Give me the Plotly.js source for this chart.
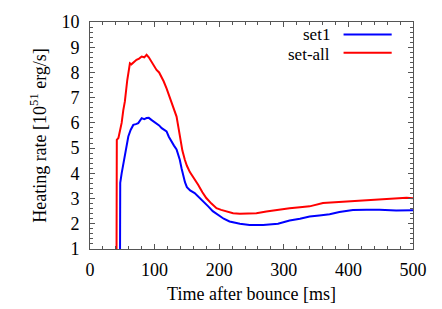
<!DOCTYPE html>
<html>
<head>
<meta charset="utf-8">
<script src="https://cdn.plot.ly/plotly-3.0.1.min.js"></script>
<style>
html,body{margin:0;padding:0;background:#fff}
#chart{width:442px;height:309px}
</style>
</head>
<body>
<div id="chart"></div>
<script>
// Time after bounce [ms] and heating rate [10^51 erg/s]
var set1T = [46.4, 46.8, 49, 51.5, 55.6, 59.3, 62.9, 67, 71, 74.7, 80, 84, 87.6, 91, 95, 99, 103, 107, 111, 115, 118.5, 122, 126, 130, 134, 137, 139, 141.7, 144, 147, 150, 155, 162, 167, 175, 183, 190, 198, 207, 216, 232, 247, 268, 291, 309, 325, 340, 355, 371, 386, 407, 428, 448, 474, 500];
var set1V = [0, 3.62, 4.0, 4.34, 4.93, 5.46, 5.72, 5.92, 5.95, 5.99, 6.19, 6.15, 6.19, 6.2, 6.12, 6.05, 5.99, 5.9, 5.79, 5.72, 5.66, 5.45, 5.26, 5.1, 4.95, 4.75, 4.54, 4.2, 3.95, 3.65, 3.45, 3.32, 3.22, 3.1, 2.9, 2.69, 2.5, 2.36, 2.2, 2.09, 2.0, 1.95, 1.95, 2.0, 2.13, 2.2, 2.29, 2.33, 2.38, 2.47, 2.55, 2.56, 2.56, 2.53, 2.54];
var setAllT = [41, 41.5, 44, 49, 51.5, 54, 57.7, 61.8, 64, 67, 72, 76, 80, 84, 87.6, 91, 95, 99, 103, 107, 110.8, 114, 118.5, 122, 126, 130, 134, 137, 139, 143, 146.8, 150, 154.6, 160, 167.4, 174, 180, 188, 195.8, 203, 211, 221.5, 232, 242, 257.6, 273, 291, 309, 325, 340, 360.6, 380, 402, 427.7, 450, 474, 490, 500];
var setAllV = [0, 5.33, 5.4, 6.0, 6.5, 6.85, 7.7, 8.36, 8.32, 8.39, 8.5, 8.55, 8.63, 8.6, 8.7, 8.6, 8.43, 8.3, 8.1, 8.0, 7.83, 7.65, 7.37, 7.1, 6.84, 6.55, 6.25, 5.8, 5.46, 4.9, 4.54, 4.3, 4.05, 3.85, 3.55, 3.25, 3.02, 2.8, 2.62, 2.55, 2.49, 2.42, 2.40, 2.40, 2.42, 2.49, 2.56, 2.62, 2.66, 2.69, 2.82, 2.85, 2.9, 2.95, 2.97, 3.02, 3.03, 3.01];
var seriesNames = ['set1', 'set-all'];
var seriesColors = ['#0000ff', '#ff0000'];
var xTickVals = [0, 100, 200, 300, 400, 500];
var yTickVals = [1, 2, 3, 4, 5, 6, 7, 8, 9, 10];

var fam = '"Liberation Serif", "Times New Roman", serif';
var font = {family: fam, size: 18, color: '#000'};
var legendFont = {family: fam, size: 17, color: '#000'};
var axisCommon = {
  showgrid: false, zeroline: false, showline: true, linecolor: '#555', linewidth: 1,
  mirror: 'allticks', ticks: 'inside', ticklen: 5, tickcolor: '#555', tickwidth: 1,
  tickfont: font
};

var traces = [
  {x: set1T, y: set1V, mode: 'lines', name: seriesNames[0], line: {color: seriesColors[0], width: 2}, showlegend: false},
  {x: setAllT, y: setAllV, mode: 'lines', name: seriesNames[1], line: {color: seriesColors[1], width: 2}, showlegend: false}
];

var layout = {
  width: 442, height: 309,
  margin: {l: 90, r: 28.5, t: 22, b: 59.7},
  paper_bgcolor: '#fff', plot_bgcolor: '#fff',
  font: font,
  xaxis: Object.assign({}, axisCommon, {
    range: [0, 500], tickvals: xTickVals, ticktext: xTickVals.map(String),
    minor: {dtick: 20, ticks: 'inside', ticklen: 3, tickcolor: '#555'},
    ticklabelstandoff: 4,
    title: {text: 'Time after bounce [ms]', font: font, standoff: 8}
  }),
  yaxis: Object.assign({}, axisCommon, {
    range: [1, 10], tickvals: yTickVals, ticktext: yTickVals.map(String),
    minor: {dtick: 0.2, ticks: 'inside', ticklen: 3, tickcolor: '#555'},
    ticklabelstandoff: 6,
    title: {text: 'Heating rate [10<sup>51</sup> erg/s]', font: font, standoff: 10}
  }),
  annotations: [
    {xref: 'paper', yref: 'paper', x: 0.745, y: 0.947, xanchor: 'right', yanchor: 'middle', text: seriesNames[0], showarrow: false, font: legendFont, borderpad: 0},
    {xref: 'paper', yref: 'paper', x: 0.745, y: 0.858, xanchor: 'right', yanchor: 'middle', text: seriesNames[1], showarrow: false, font: legendFont, borderpad: 0}
  ],
  shapes: [
    {type: 'line', xref: 'paper', yref: 'paper', x0: 0.785, x1: 0.934, y0: 0.945, y1: 0.945, line: {color: seriesColors[0], width: 2}},
    {type: 'line', xref: 'paper', yref: 'paper', x0: 0.785, x1: 0.934, y0: 0.864, y1: 0.864, line: {color: seriesColors[1], width: 2}}
  ]
};

Plotly.newPlot('chart', traces, layout, {staticPlot: true, displayModeBar: false});
</script>
</body>
</html>
